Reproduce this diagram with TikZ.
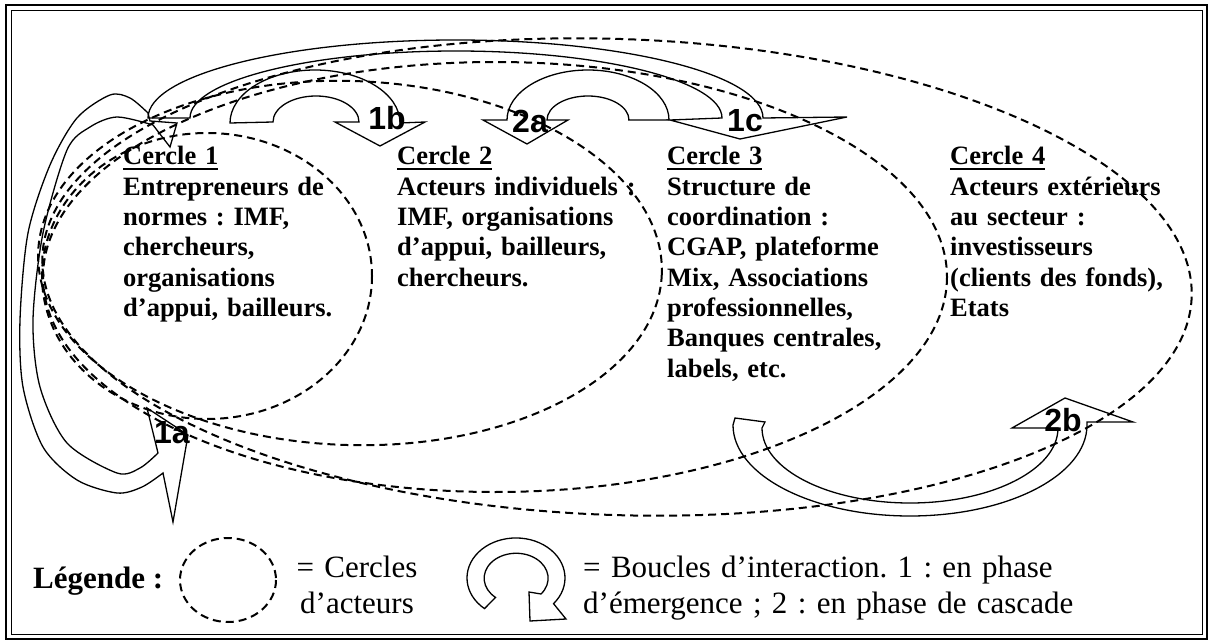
\documentclass[tikz,border=0pt]{standalone}
\usepackage{fontspec}
\setmainfont{Liberation Serif}
\newfontfamily\arialfont{Liberation Sans}
\usetikzlibrary{calc}
\frenchspacing
\def\souligne#1{\setbox0\hbox{#1}\rlap{\rule[-5.5pt]{\wd0}{2pt}}\box0}

\tikzset{
	cercle/.style={line width=2pt, dash pattern=on 8pt off 5pt},
	boucle/.style={line width=1.3pt, line join=miter},
	bloc/.style={anchor=base west, inner sep=0pt, text width=260pt, align=left, font=\bfseries\fontsize{26.5}{30.3}\selectfont},
	numero/.style={inner sep=0pt, font=\arialfont\bfseries\fontsize{32}{32}\selectfont},
	legende/.style={inner sep=0pt, font=\fontsize{31}{36}\selectfont}
}

\begin{document}
\begin{tikzpicture}[x=1pt, y=-1pt]
			%%%%% START %%%%%
			\useasboundingbox (0,0) rectangle (1212,644);
			
			\draw[line width=1.5pt] (6,5) rectangle (1207,639);
			\draw[line width=0.8pt] (11,10) rectangle (1202,634);
			
			% cercles d'acteurs
			\draw[cercle] (207,276) ellipse [x radius=165, y radius=143];
			\draw[cercle, rotate around={-2:(350,263)}] (350,263) ellipse [x radius=312, y radius=182];
			\draw[cercle] (495,277) ellipse [x radius=452, y radius=215];
			\draw[cercle, rotate around={-2:(617,277)}] (617,277) ellipse [x radius=575, y radius=238];
			
			% boucles
			\draw[boucle] plot[smooth] coordinates {(148,113) (130,98) (110,95) (77,118) (50,165) (28,233) (20,320) (23,387) (43,447) (77,480) (117,493) (142,487) (163,473)}
				-- (173,522) -- (188,435) -- (147,408)
				-- plot[smooth] coordinates {(158,453) (140,468) (117,473) (67,443) (40,387) (33,320) (43,233) (67,150) (90,127) (117,117) (153,125)}
				-- (170,147) -- (177,123) -- (150,121) -- cycle;
			\draw[boucle] (190,118) -- (148,118) arc[start angle=180, end angle=360, x radius=307.5, y radius=78]
				-- (847,117) -- (740,139) -- (670,120) -- (722,118)
				arc[start angle=0, end angle=-180, x radius=266, y radius=67] -- cycle;
			\draw[boucle] (273,122) -- (230,123) arc[start angle=180, end angle=360, x radius=85, y radius=53]
				-- (425,122) -- (380,146) -- (335,122) -- (359,122)
				arc[start angle=0, end angle=-180, x radius=43, y radius=26] -- cycle;
			\draw[boucle] (628,120) -- (669,120) arc[start angle=0, end angle=-180, x radius=81, y radius=50]
				-- (483,120) -- (527,144) -- (568,120) -- (547,120)
				arc[start angle=180, end angle=360, x radius=41, y radius=24] -- cycle;
			\draw[boucle] (765,422) -- (735,418) -- (733,425) arc[start angle=180, end angle=0, x radius=177, y radius=91]
				-- (1087,422) -- (1133,422) -- (1065,398) -- (1012,428) -- (1058,428)
				arc[start angle=0, end angle=180, x radius=148, y radius=75] -- cycle;
			
			\node[numero] (n1a) at (172,433) {1a};
			\node[numero] (n1b) at (387,118) {1b};
			\node[numero] (n1c) at (745,121) {1c};
			\node[numero] (n2a) at (530,121) {2a};
			\node[numero] (n2b) at (1063,420) {2b};
			
			% textes des cercles
			\node[bloc] (c1) at (123,165) {\souligne{Cercle 1}\\Entrepreneurs de\\normes : IMF,\\chercheurs,\\organisations\\d’appui, bailleurs.};
			\node[bloc] (c2) at (397,165) {\souligne{Cercle 2}\\Acteurs individuels :\\IMF, organisations\\d’appui, bailleurs,\\chercheurs.};
			\node[bloc] (c3) at (667,165) {\souligne{Cercle 3}\\Structure de\\coordination :\\CGAP, plateforme\\Mix, Associations\\professionnelles,\\Banques centrales,\\labels, etc.};
			\node[bloc] (c4) at (950,165) {\souligne{Cercle 4}\\Acteurs extérieurs\\au secteur :\\investisseurs\\(clients des fonds),\\Etats};
			
			% legende
			\node[legende, font=\bfseries\fontsize{31}{36}\selectfont, anchor=base west] (leg) at (33,588) {Légende :};
			\draw[cercle] (228,580) ellipse [x radius=48, y radius=42];
			\node[legende, anchor=base, text width=140pt, align=center] (legc) at (357,577) {= Cercles\\d’acteurs};
			\draw[boucle] (484.5,608.6) arc[start angle=130, end angle=400, x radius=49, y radius=40]
				-- (566,619) -- (530,621) -- (529,592) -- (541,594)
				arc[start angle=39, end angle=-230, x radius=32, y radius=25] -- cycle;
			\node[legende, anchor=base west, text width=600pt, align=left] (legb) at (583,577) {= Boucles d’interaction. 1 : en phase\\d’émergence ; 2 : en phase de cascade};
			
			%%%%% END %%%%%
\end{tikzpicture}
\end{document}
